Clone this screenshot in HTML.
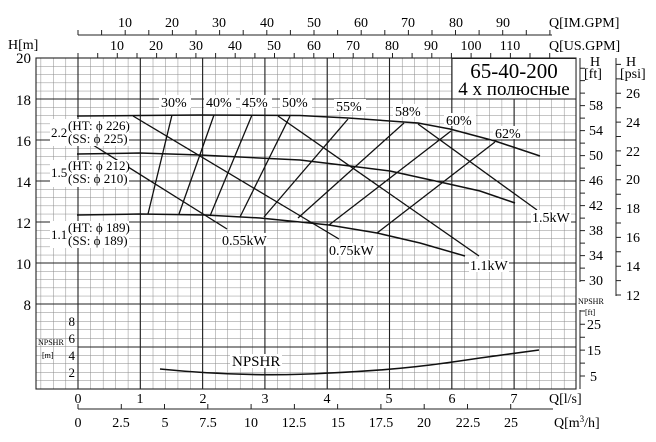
<!DOCTYPE html>
<html><head><meta charset="utf-8"><style>
html,body{margin:0;padding:0;background:#fff;}
svg{display:block;font-family:"Liberation Serif","Noto Serif CJK SC",serif;}
</style></head><body>
<svg width="656" height="442" viewBox="0 0 656 442" xmlns="http://www.w3.org/2000/svg">
<defs>
<pattern id="g1" patternUnits="userSpaceOnUse" x="78" y="58" width="12.46" height="8.2">
<path d="M0,0V8.2M0,0H12.46" stroke="#8a8a8a" stroke-width="1" fill="none"/>
</pattern>
<pattern id="g2" patternUnits="userSpaceOnUse" x="78" y="304" width="12.46" height="8.5">
<path d="M0,0V8.5M0,0H12.46" stroke="#8a8a8a" stroke-width="1" fill="none"/>
</pattern>
</defs>
<rect x="36" y="58" width="540" height="246" fill="url(#g1)"/>
<rect x="36" y="304" width="540" height="85" fill="url(#g2)"/>
<g stroke="#222" stroke-width="1.1">
<path d="M78,58V389M140.3,58V389M202.6,58V389M264.9,58V389M327.2,58V389M389.5,58V389M451.8,58V389M514.1,58V389"/>
<path d="M36,99H576M36,140H576M36,181H576M36,222H576M36,263H576M36,304H576M78,347H576"/>
<rect x="36" y="58" width="540" height="331" fill="none"/>
</g>
<rect x="452" y="58.5" width="124" height="40.5" fill="#fff" stroke="#222" stroke-width="1"/>
<text x="514" y="78" font-size="21" text-anchor="middle">65-40-200</text>
<text x="514" y="95" font-size="19" text-anchor="middle">4 х полюсные</text>

<g font-size="15" text-anchor="end">
<text x="31" y="63">20</text><text x="31" y="105">18</text><text x="31" y="146">16</text><text x="31" y="187">14</text><text x="31" y="228">12</text><text x="31" y="269">10</text><text x="31" y="310">8</text>
</g>
<text x="8" y="49" font-size="14">H[m]</text>
<g font-size="13" text-anchor="end">
<text x="75" y="326">8</text><text x="75" y="343">6</text><text x="75" y="360">4</text><text x="75" y="377">2</text>
</g>
<text x="38" y="345" font-size="8">NPSHR</text>
<text x="42" y="358" font-size="8">[m]</text>

<g fill="none" stroke="#111" stroke-width="1.5">
<path d="M77,116 L140,115.5 L200,115 L300,115.5 L348,118 L418,123 L450,129 L495,141 L540,156"/>
<path d="M77,154 L140,153 L200,155 L300,160 L350,166 L390,171 L440,182 L480,191 L515,203"/>
<path d="M77,215 L140,214 L205,215 L260,218 L300,222 L329,225 L377,233 L420,243 L465,256"/>
</g>
<g stroke="#111" stroke-width="1.3">
<path d="M93,145L227,229M133,116L339,239M278,116L479,256M418,124L537,210"/>
<path d="M172,115L148,214M214,115L179,214M252,115L210,216M290,116L240,217M348,119L264,217M404,123L298,218M451,131L329,225M495,142L377,233"/>
</g>
<g font-size="14">
<rect x="159" y="95" width="32" height="13" fill="#fff"/><text x="161" y="107">30%</text>
<rect x="204" y="95" width="32" height="13" fill="#fff"/><text x="206" y="107">40%</text>
<rect x="240" y="95" width="32" height="13" fill="#fff"/><text x="242" y="107">45%</text>
<rect x="280" y="95" width="32" height="13" fill="#fff"/><text x="282" y="107">50%</text>
<rect x="334" y="99" width="32" height="13" fill="#fff"/><text x="336" y="111">55%</text>
<rect x="393" y="104" width="32" height="13" fill="#fff"/><text x="395" y="116">58%</text>
<rect x="444" y="113" width="32" height="13" fill="#fff"/><text x="446" y="125">60%</text>
<rect x="493" y="126" width="32" height="13" fill="#fff"/><text x="495" y="138">62%</text>
</g>
<g font-size="14">
<rect x="221" y="233" width="46" height="13" fill="#fff"/><text x="222" y="245">0.55kW</text>
<rect x="328" y="243" width="48" height="13" fill="#fff"/><text x="329" y="255">0.75kW</text>
<rect x="469" y="259" width="40" height="13" fill="#fff"/><text x="470" y="270">1.1kW</text>
<rect x="531" y="210" width="40" height="13" fill="#fff"/><text x="532" y="222">1.5kW</text>
</g>
<g font-size="13">
<rect x="50" y="119" width="79" height="27" fill="#fff"/>
<text x="51" y="137">2.2</text><text x="68" y="130">(HT: ϕ 226)</text><text x="68" y="143">(SS: ϕ 225)</text>
<rect x="50" y="160" width="79" height="27" fill="#fff"/>
<text x="51" y="177">1.5</text><text x="68" y="170">(HT: ϕ 212)</text><text x="68" y="183">(SS: ϕ 210)</text>
<rect x="50" y="221" width="79" height="27" fill="#fff"/>
<text x="51" y="239">1.1</text><text x="68" y="232">(HT: ϕ 189)</text><text x="68" y="245">(SS: ϕ 189)</text>
</g>
<path d="M160,369 C220,375 280,376 330,373 C400,370 440,364 480,358 C510,354 525,352 539,350" fill="none" stroke="#111" stroke-width="1.6"/>
<rect x="230" y="354" width="52" height="14" fill="#fff"/>
<text x="232" y="366" font-size="15">NPSHR</text>

<g stroke="#222" stroke-width="1" fill="none">
<path d="M580,58V282"/>
<path d="M580,68.2h5M580,80.6h5M580,93.1h5M580,105.6h5M580,118.1h5M580,130.6h5M580,143.1h5M580,155.6h5M580,168.1h5M580,180.6h5M580,193.1h5M580,205.6h5M580,218.1h5M580,230.6h5M580,243.1h5M580,255.6h5M580,268.1h5M580,280.6h5"/>
<path d="M616,58V296"/>
<path d="M616,64.4h5M616,78.9h5M616,93.3h5M616,107.7h5M616,122.1h5M616,136.5h5M616,150.9h5M616,165.4h5M616,179.8h5M616,194.2h5M616,208.6h5M616,223h5M616,237.4h5M616,251.8h5M616,266.3h5M616,280.6h5M616,295h5"/>
<path d="M580,310V389"/>
<path d="M580,311h5M580,324.2h5M580,337.2h5M580,350.1h5M580,363.1h5M580,376h5"/>
</g>
<g font-size="14">
<text x="590" y="66">H</text><text x="584" y="78">[ft]</text>
<text x="626" y="66">H</text><text x="620" y="78">[psi]</text>
<text x="589" y="110">58</text><text x="589" y="135">54</text><text x="589" y="160">50</text><text x="589" y="185">46</text><text x="589" y="210">42</text><text x="589" y="235">38</text><text x="589" y="260">34</text><text x="589" y="285">30</text>
<text x="626" y="98">26</text><text x="626" y="127">24</text><text x="626" y="156">22</text><text x="626" y="184">20</text><text x="626" y="213">18</text><text x="626" y="242">16</text><text x="626" y="271">14</text><text x="626" y="300">12</text>
<text x="587" y="329">25</text><text x="587" y="355">15</text><text x="590" y="381">5</text>
</g>
<text x="578" y="304" font-size="8">NPSHR</text>
<text x="585" y="315" font-size="8">[ft]</text>

<g font-size="14" text-anchor="middle">
<text x="78" y="403">0</text><text x="140" y="403">1</text><text x="203" y="403">2</text><text x="265" y="403">3</text><text x="327" y="403">4</text><text x="389" y="403">5</text><text x="452" y="403">6</text><text x="514" y="403">7</text>
</g>
<text x="549" y="403" font-size="14">Q[l/s]</text>
<g stroke="#222" stroke-width="1" fill="none">
<path d="M78,409H553"/>
<path d="M78,409v-5M121.3,409v-5M164.5,409v-5M207.8,409v-5M251.1,409v-5M294.4,409v-5M337.6,409v-5M380.9,409v-5M424.2,409v-5M467.5,409v-5M510.7,409v-5"/>
</g>
<g font-size="14" text-anchor="middle">
<text x="78" y="427">0</text><text x="121" y="427">2.5</text><text x="165" y="427">5</text><text x="208" y="427">7.5</text><text x="251" y="427">10</text><text x="294" y="427">12.5</text><text x="338" y="427">15</text><text x="381" y="427">17.5</text><text x="424" y="427">20</text><text x="468" y="427">22.5</text><text x="511" y="427">25</text>
</g>
<text x="554" y="427" font-size="14">Q[m<tspan font-size="9" dy="-5">3</tspan><tspan dy="5">/h]</tspan></text>

<g stroke="#222" stroke-width="1" fill="none">
<path d="M78,35H552"/>
<path d="M78,35v-5M101.6,35v-5M125.2,35v-5M148.8,35v-5M172.4,35v-5M196,35v-5M219.6,35v-5M243.2,35v-5M266.8,35v-5M290.4,35v-5M314,35v-5M337.6,35v-5M361.2,35v-5M384.8,35v-5M408.4,35v-5M432,35v-5M455.5,35v-5M479.1,35v-5M502.7,35v-5M526.3,35v-5M549.9,35v-5"/>
<path d="M78,58v-5M97.7,58v-5M117.3,58v-5M137,58v-5M156.6,58v-5M176.3,58v-5M195.9,58v-5M215.6,58v-5M235.2,58v-5M254.9,58v-5M274.5,58v-5M294.2,58v-5M313.8,58v-5M333.5,58v-5M353.2,58v-5M372.8,58v-5M392.5,58v-5M412.1,58v-5M431.8,58v-5M451.4,58v-5M471.1,58v-5M490.7,58v-5M510.4,58v-5M530,58v-5M549.7,58v-5"/>
</g>
<g font-size="14" text-anchor="middle">
<text x="125" y="27">10</text><text x="172" y="27">20</text><text x="219" y="27">30</text><text x="267" y="27">40</text><text x="314" y="27">50</text><text x="361" y="27">60</text><text x="408" y="27">70</text><text x="456" y="27">80</text><text x="503" y="27">90</text>
<text x="117" y="50">10</text><text x="156" y="50">20</text><text x="196" y="50">30</text><text x="235" y="50">40</text><text x="274" y="50">50</text><text x="314" y="50">60</text><text x="353" y="50">70</text><text x="392" y="50">80</text><text x="431" y="50">90</text><text x="471" y="50">100</text><text x="510" y="50">110</text>
</g>
<text x="549" y="27" font-size="14">Q[IM.GPM]</text>
<text x="549" y="50" font-size="14">Q[US.GPM]</text>
</svg>
</body></html>
